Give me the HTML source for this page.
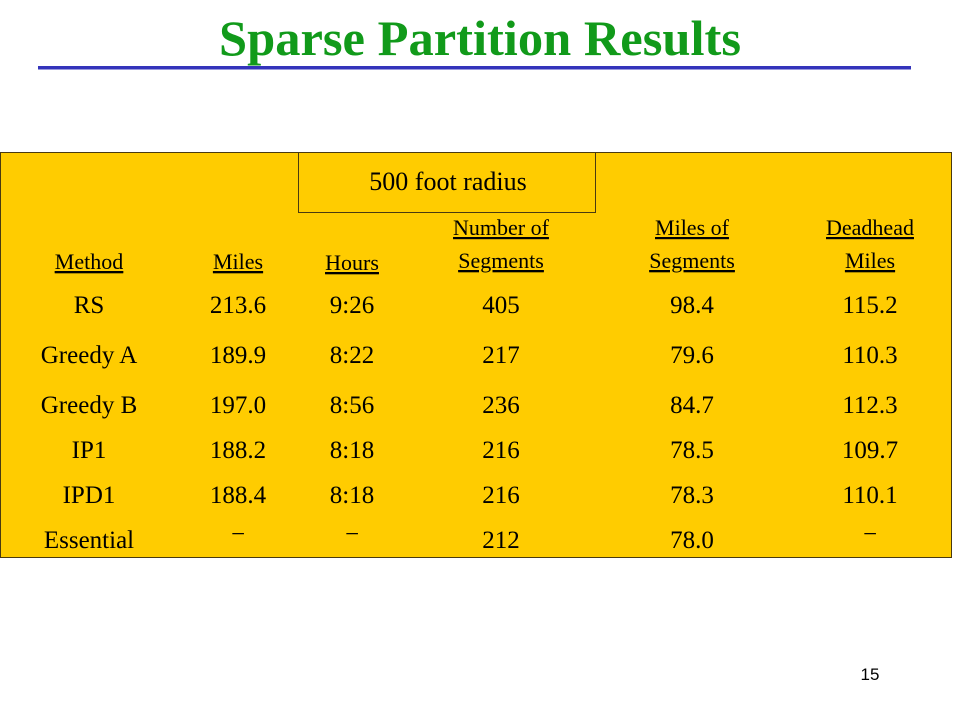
<!DOCTYPE html>
<html><head><meta charset="utf-8"><style>
html,body{margin:0;padding:0;background:#fff;}
svg{display:block;}
text{font-family:"Liberation Serif",serif;fill:#000;}
</style></head><body>
<svg width="960" height="720" viewBox="0 0 960 720">
<text x="480" y="55" text-anchor="middle" font-size="50" font-weight="bold" style="fill:#119a1a" textLength="522" lengthAdjust="spacingAndGlyphs">Sparse Partition Results</text>
<rect x="38" y="66" width="873" height="3.5" fill="#3333bb"/>
<rect x="0.5" y="152.5" width="951" height="405" fill="#ffcc00" stroke="#4a3a10" stroke-width="1"/>
<rect x="298.5" y="152.5" width="297" height="60" fill="none" stroke="#4a3a10" stroke-width="1"/>
<text x="448" y="190" text-anchor="middle" font-size="26">500 foot radius</text>
<g font-size="22" text-anchor="middle" text-decoration="underline">
<text x="89" y="269" text-decoration="underline">Method</text>
<text x="238" y="269" text-decoration="underline">Miles</text>
<text x="352" y="270" text-decoration="underline">Hours</text>
<text x="501" y="235">Number of</text>
<text x="501" y="268" text-decoration="underline">Segments</text>
<text x="692" y="235">Miles of</text>
<text x="692" y="268" text-decoration="underline">Segments</text>
<text x="870" y="235">Deadhead</text>
<text x="870" y="268" text-decoration="underline">Miles</text>
</g>
<g id="rows" font-size="25" text-anchor="middle"></g>
<text x="870" y="680" text-anchor="middle" font-size="17" style="font-family:'Liberation Sans',sans-serif">15</text>
</svg>
<script>
const methods=["RS","Greedy A","Greedy B","IP1","IPD1","Essential"];
const miles=["213.6","189.9","197.0","188.2","188.4","\u2212"];
const hours=["9:26","8:22","8:56","8:18","8:18","\u2212"];
const numSeg=["405","217","236","216","216","212"];
const milesSeg=["98.4","79.6","84.7","78.5","78.3","78.0"];
const deadhead=["115.2","110.3","112.3","109.7","110.1","\u2212"];
const rowY=[313,363,413,458,503,548];
const colX=[89,238,352,501,692,870];
const g=document.getElementById('rows');
const cols=[methods,miles,hours,numSeg,milesSeg,deadhead];
const names=["method","miles","hours","num-segments","miles-segments","deadhead"];
for(let r=0;r<methods.length;r++){
 for(let c=0;c<cols.length;c++){
  const t=document.createElementNS('http://www.w3.org/2000/svg','text');
  t.setAttribute('x',colX[c]);
  let y=rowY[r];
  if(cols[c][r]==="\u2212") y-=6;
  t.setAttribute('y',y);
  t.textContent=cols[c][r];
  
  
  g.appendChild(t);
 }
}
</script>
</body></html>
